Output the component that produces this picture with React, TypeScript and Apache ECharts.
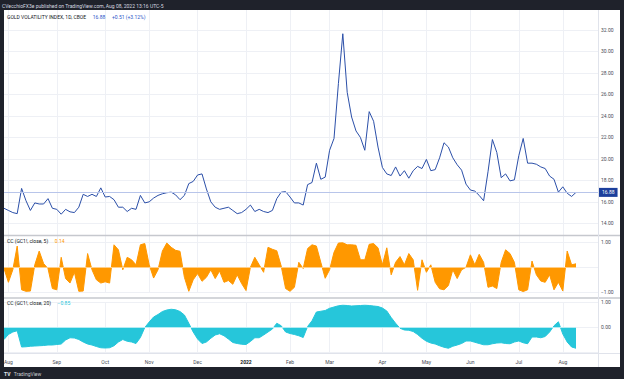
import React, { useEffect, useRef } from 'react';
import * as echarts from 'echarts';

// ---- tick labels (month starts, as category slot indices) ----
const monthIdx = [1, 12, 23, 33, 44, 55, 65, 74, 86, 96, 106, 117, 127];
const monthNames = ['Aug', 'Sep', 'Oct', 'Nov', 'Dec', '2022', 'Feb', 'Mar', 'Apr', 'May', 'Jun', 'Jul', 'Aug'];
const slotCount = 136; // each slot = 2 trading days, with blank space on the right

// ---- Gold Volatility Index (GVZ), daily close, every 2nd session ----
const gvz = [
  15.4, 15.2, 15.0, 14.9, 17.25, 16.1, 15.2, 15.9, 15.8, 15.8,
  16.3, 15.4, 15.3, 14.85, 15.3, 15.07, 15.0, 15.5, 16.7, 16.5,
  16.7, 16.5, 17.3, 16.45, 16.5, 16.2, 15.5, 15.5, 15.1, 15.4,
  15.3, 16.6, 15.9, 16.0, 16.35, 16.6, 16.75, 16.85, 16.9, 16.65,
  16.2, 16.6, 17.7, 17.9, 18.5, 18.6, 17.2, 16.0, 15.5, 15.3,
  15.4, 15.5, 15.2, 14.9, 15.0, 15.3, 15.7, 15.1, 15.3, 15.1,
  15.0, 15.2, 16.3, 16.9, 16.95, 16.45, 15.9, 15.9, 15.7, 17.6,
  17.8, 19.6, 18.1, 18.3, 20.8, 21.9, 27.0, 31.65, 26.2, 23.9,
  22.6, 22.0, 20.8, 24.4, 23.5, 21.1, 19.2, 18.6, 18.45, 19.25,
  18.4, 18.9, 18.2, 18.9, 19.3, 19.1, 19.95, 18.9, 19.0, 20.1,
  21.5, 21.1, 20.1, 19.45, 18.95, 17.65, 17.1, 17.0, 16.6, 16.1,
  18.8, 21.8, 20.6, 18.25, 18.6, 17.95, 18.05, 20.3, 21.9, 19.6,
  19.6, 19.5, 19.25, 19.1, 18.4, 18.1, 16.9, 17.4, 16.8, 16.5,
  16.88,
];

// ---- CC (GC1!, close, 5) ----
const cc5 = [
  -0.05, -0.6, -0.1, 0.85, -0.9, -0.96, -0.95, 0.1, 0.65, 0.15,
  -0.05, -0.85, -0.9, 0.4, -0.45, -0.63, -0.2, -0.96, -0.95, 0.55,
  -0.1, -0.5, -0.63, -0.58, -0.63, 0.9, 0.7, -0.1, 0.4, 0.3,
  0.1, 0.9, 0.95, 0.1, -0.43, -0.1, 0.65, 0.97, 0.8, 0.68,
  0.64, -0.4, -0.96, -0.5, -0.25, -0.56, -0.4, -0.1, -0.45, -0.15,
  -0.6, -0.53, -0.68, -0.3, -0.65, -0.93, 0, 0.4, 0.1, -0.2,
  0.8, 0.72, 0.66, 0.05, -0.85, -0.96, -0.8, 0.2, -0.05, 0.75,
  0.9, 0.85, 0.2, -0.44, -0.1, 0.6, 0.97, 0.98, 0.9, 0.9,
  0.88, 0.3, 0.3, 0.92, 0.95, 0.78, 0.1, 0.78, -0.3, 0.2,
  0.43, 0.1, 0.55, 0.3, -0.92, 0.3, -0.2, 0.1, -0.6, -0.86,
  -0.9, -0.73, -0.1, -0.45, -0.1, 0, 0.5, 0.1, 0.52, 0.2,
  -0.8, -0.75, -0.85, 0.2, 0.7, 0.55, 0.2, -0.9, -0.97, -0.9,
  0.25, -0.3, -0.55, -0.6, -0.3, -0.9, -0.6, -0.95, 0.65, 0.1,
  0.14,
];

// ---- CC (GC1!, close, 20) ----
const cc20 = [
  -0.5, -0.3, -0.2, -0.15, -0.8, -0.79, -0.77, -0.76, -0.75, -0.74,
  -0.72, -0.72, -0.7, -0.68, -0.52, -0.43, -0.44, -0.5, -0.6, -0.68,
  -0.72, -0.78, -0.83, -0.84, -0.83, -0.75, -0.6, -0.5, -0.57, -0.6,
  -0.66, -0.42, -0.02, 0.2, 0.4, 0.5, 0.62, 0.68, 0.71, 0.69,
  0.62, 0.48, 0.15, -0.2, -0.48, -0.66, -0.6, -0.45, -0.32, -0.27,
  -0.35, -0.48, -0.62, -0.66, -0.69, -0.7, -0.58, -0.43, -0.43, -0.32,
  -0.2, -0.08, 0.15, 0.05, -0.2, -0.26, -0.3, -0.35, -0.42, 0.02,
  0.25, 0.6, 0.63, 0.66, 0.75, 0.8, 0.85, 0.87, 0.86, 0.84,
  0.85, 0.86, 0.87, 0.86, 0.84, 0.82, 0.76, 0.64, 0.38, 0.15,
  -0.05, -0.12, -0.13, -0.18, -0.3, -0.45, -0.57, -0.64, -0.68, -0.75,
  -0.81, -0.85, -0.77, -0.72, -0.66, -0.56, -0.56, -0.61, -0.66, -0.71,
  -0.71, -0.67, -0.64, -0.63, -0.66, -0.67, -0.6, -0.56, -0.63, -0.67,
  -0.4, -0.4, -0.43, -0.38, -0.2, 0.05, 0.21, -0.28, -0.6, -0.8,
  -0.85,
];

const FONT = 'Roboto, "Liberation Sans", "DejaVu Sans", sans-serif';
const LABEL = '#4a4d57';
const GRID = '#eef0f5';
const FRAME = '#1f222b';
const LINE_BLUE = '#2b4fa8';
const ORANGE = '#ff9800';
const CYAN = '#26c6da';

const cats = Array.from({ length: slotCount }, (_, i) => String(i));
const isMonth = (i: number) => monthIdx.includes(i);
const labelAt = (i: number) => {
  const k = monthIdx.indexOf(i);
  return k >= 0 ? monthNames[k] : '';
};
const fmtNum = (v: number) => (v < 0 ? '\u2212' + Math.abs(v).toFixed(2) : v.toFixed(2));

function xAxisFor(gridIndex: number, showLabels: boolean) {
  return {
    type: 'category',
    gridIndex,
    data: cats,
    boundaryGap: false,
    axisLine: { show: false },
    axisTick: { show: false },
    axisLabel: showLabels
      ? {
          show: true,
          interval: (i: number) => isMonth(i),
          formatter: (v: string) => {
            const t = labelAt(Number(v));
            return t === '2022' ? '{b|2022}' : t;
          },
          fontSize: 5,
          color: LABEL,
          fontFamily: FONT,
          margin: 7,
          rich: { b: { fontWeight: 'bold', fontSize: 5, color: '#131722', fontFamily: FONT } },
        }
      : { show: false },
    splitLine: { show: true, interval: (i: number) => isMonth(i), lineStyle: { color: GRID, width: 1 } },
  };
}

// hidden: tick value whose label sits under the pane's value badge
function yAxisFor(gridIndex: number, min: number, max: number, interval: number, hideEnds: boolean, hidden?: number) {
  return {
    type: 'value',
    gridIndex,
    position: 'right',
    min,
    max,
    interval,
    axisLine: { show: false },
    axisTick: { show: false },
    axisLabel: {
      showMinLabel: !hideEnds,
      showMaxLabel: !hideEnds,
      formatter: (v: number) => (hidden !== undefined && v === hidden ? '' : fmtNum(v)),
      fontSize: 5,
      color: LABEL,
      fontFamily: FONT,
      margin: 3,
    },
    splitLine: {
      show: true,
      showMinLine: !hideEnds,
      showMaxLine: !hideEnds,
      lineStyle: { color: GRID, width: 1 },
    },
  };
}

function badge(value: number, bg: string, fg: string) {
  return {
    yAxis: value,
    lineStyle: { opacity: 0, width: 0 },
    label: {
      show: true,
      position: 'end',
      distance: 1,
      formatter: fmtNum(value),
      backgroundColor: bg,
      color: fg,
      fontSize: 5,
      fontFamily: FONT,
      padding: [2, 3, 2, 3],
    },
  };
}

export default function App() {
  const ref = useRef<HTMLDivElement>(null);

  useEffect(() => {
    if (!ref.current) return;
    const chart = echarts.init(ref.current, null, { renderer: 'svg' });
    const last = gvz.length - 1;

    const option: any = {
      animation: false,
      backgroundColor: '#ffffff',
      textStyle: { fontFamily: FONT },
      grid: [
        { left: 4, right: 26, top: 8.5, height: 236.3 },
        { left: 4, right: 26, top: 242.3, height: 50 },
        { left: 4, right: 26, top: 302, height: 50 },
      ],
      xAxis: [xAxisFor(0, false), xAxisFor(1, false), xAxisFor(2, true)],
      yAxis: [
        yAxisFor(0, 12, 34, 2, true),
        yAxisFor(1, -1, 1, 1, false, 0),
        yAxisFor(2, -1, 1, 1, false, -1),
      ],
      series: [
        {
          type: 'line',
          xAxisIndex: 0,
          yAxisIndex: 0,
          data: gvz,
          showSymbol: false,
          lineStyle: { color: LINE_BLUE, width: 1 },
          z: 3,
          markLine: {
            silent: true,
            symbol: ['none', 'none'],
            data: [
              {
                yAxis: gvz[last],
                lineStyle: { color: '#b8c5ea', width: 1, type: 'solid' },
                label: {
                  show: true,
                  position: 'end',
                  distance: 1,
                  formatter: gvz[last].toFixed(2),
                  backgroundColor: '#1c3f9c',
                  color: '#ffffff',
                  fontSize: 5,
                  fontFamily: FONT,
                  padding: [2, 3, 2, 3],
                },
              },
            ],
          },
        },
        {
          type: 'line',
          xAxisIndex: 1,
          yAxisIndex: 1,
          data: cc5,
          showSymbol: false,
          lineStyle: { color: ORANGE, width: 1 },
          areaStyle: { color: ORANGE, opacity: 1 },
          markLine: {
            silent: true,
            symbol: ['none', 'none'],
            data: [
              [
                { coord: [0, 0], lineStyle: { color: '#ffcf8a', width: 1, type: 'solid' }, label: { show: false } },
                { coord: [last, 0] },
              ],
              badge(cc5[last], ORANGE, '#1e1e1e'),
            ],
          },
        },
        {
          type: 'line',
          xAxisIndex: 2,
          yAxisIndex: 2,
          data: cc20,
          showSymbol: false,
          lineStyle: { color: CYAN, width: 1 },
          areaStyle: { color: CYAN, opacity: 1 },
          markLine: {
            silent: true,
            symbol: ['none', 'none'],
            data: [
              [
                { coord: [0, 0], lineStyle: { color: '#b4ecf3', width: 1, type: 'solid' }, label: { show: false } },
                { coord: [last, 0] },
              ],
              badge(cc20[last], CYAN, '#1e1e1e'),
            ],
          },
        },
      ],
      graphic: [
        // pane separators and scale borders
        { type: 'line', z: 50, shape: { x1: 4, y1: 235.5, x2: 620, y2: 235.5 }, style: { stroke: '#c6c8ce', lineWidth: 1.5 } },
        { type: 'line', z: 50, shape: { x1: 4, y1: 298, x2: 620, y2: 298 }, style: { stroke: '#c6c8ce', lineWidth: 1.5 } },
        { type: 'line', z: 50, shape: { x1: 4, y1: 353.5, x2: 620, y2: 353.5 }, style: { stroke: '#e0e3eb', lineWidth: 1 } },
        { type: 'line', z: 50, shape: { x1: 598.5, y1: 10, x2: 598.5, y2: 367 }, style: { stroke: '#e0e3eb', lineWidth: 1 } },
        // dark frame
        { type: 'rect', z: 100, shape: { x: 0, y: 0, width: 624, height: 10 }, style: { fill: FRAME } },
        { type: 'rect', z: 100, shape: { x: 0, y: 367, width: 624, height: 12 }, style: { fill: FRAME } },
        { type: 'rect', z: 100, shape: { x: 0, y: 0, width: 4, height: 379 }, style: { fill: FRAME } },
        { type: 'rect', z: 100, shape: { x: 620, y: 0, width: 4, height: 379 }, style: { fill: FRAME } },
        {
          type: 'text', z: 101, x: 2, y: 5.5,
          style: {
            text: 'CVecchioFX3e published on TradingView.com, Aug 08, 2022 13:16 UTC-5',
            fill: '#d8dae0', fontSize: 5, fontFamily: FONT, verticalAlign: 'middle',
          },
        },
        {
          type: 'text', z: 101, x: 4, y: 373.5,
          style: {
            text: '{l|TV} {t|TradingView}',
            verticalAlign: 'middle',
            rich: {
              l: { fill: '#e6e8ee', fontSize: 5, fontWeight: 'bold', fontFamily: FONT },
              t: { fill: '#c9ccd4', fontSize: 5, fontFamily: FONT },
            },
          },
        },
        // pane legends
        {
          type: 'text', z: 60, x: 7, y: 16.7,
          style: {
            text: '{a|GOLD VOLATILITY INDEX, 1D, CBOE}  {b|16.88}  {b|+0.51 (+3.12%)}',
            verticalAlign: 'middle',
            rich: {
              a: { fill: '#131722', fontSize: 5, fontFamily: FONT },
              b: { fill: '#2d56c9', fontSize: 5, fontFamily: FONT },
            },
          },
        },
        {
          type: 'text', z: 60, x: 7, y: 241,
          style: {
            text: '{a|CC (GC1!, close, 5)}  {b|0.14}',
            verticalAlign: 'middle',
            rich: {
              a: { fill: '#131722', fontSize: 5, fontFamily: FONT },
              b: { fill: ORANGE, fontSize: 5, fontFamily: FONT },
            },
          },
        },
        {
          type: 'text', z: 60, x: 7, y: 303.3,
          style: {
            text: '{a|CC (GC1!, close, 20)}  {b|\u22120.85}',
            verticalAlign: 'middle',
            rich: {
              a: { fill: '#131722', fontSize: 5, fontFamily: FONT },
              b: { fill: CYAN, fontSize: 5, fontFamily: FONT },
            },
          },
        },
      ],
    };

    chart.setOption(option);
    return () => chart.dispose();
  }, []);

  return (
    <div
      ref={ref}
      style={{ position: 'fixed', left: 0, top: 0, width: 624, height: 379 }}
    />
  );
}
